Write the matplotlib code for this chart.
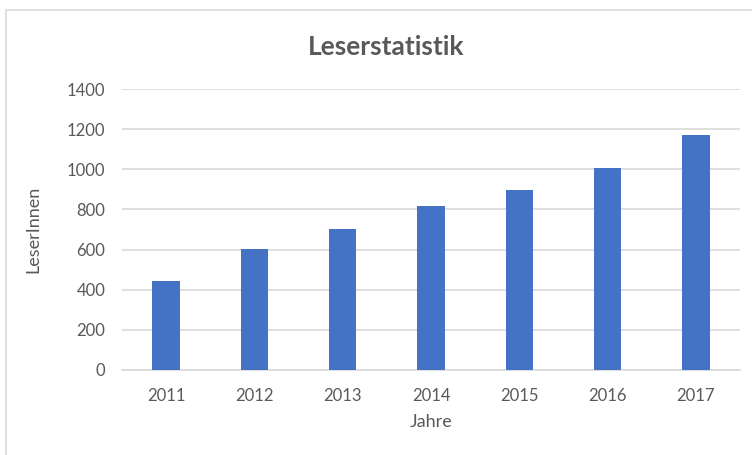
import matplotlib
matplotlib.use("Agg")
import matplotlib.pyplot as plt
from matplotlib.patches import Rectangle

years = ["2011", "2012", "2013", "2014", "2015", "2016", "2017"]
readers = [444, 603, 703, 818, 899, 1004, 1170]
yticks = [0, 200, 400, 600, 800, 1000, 1200, 1400]

plt.rcParams['font.family'] = ['Lato', 'DejaVu Sans']
txt = '#595959'
grid = '#D9D9D9'

fig = plt.figure(figsize=(7.52, 4.55), dpi=100)
fig.patch.set_facecolor('white')
# chart border (cropped at right/bottom)
fig.patches.append(Rectangle((6/752, -0.05), 1.0, (455-10)/455 + 0.05,
                             transform=fig.transFigure, fill=False,
                             edgecolor='#D9D9D9', lw=1.2))

ax = fig.add_axes([122/752, 85/455, (740-122)/752, (370-89)/455])
ax.bar(range(len(years)), readers, width=0.31, color='#4472C4', zorder=3)
ax.set_xlim(-0.5, len(years) - 0.5)
ax.set_ylim(0, 1400)
ax.set_yticks(yticks)
ax.set_xticks(range(len(years)))
ax.set_xticklabels(years)
ax.yaxis.grid(True, color=grid, lw=1.2, zorder=0)
for s in ['top', 'right', 'left']:
    ax.spines[s].set_visible(False)
ax.spines['bottom'].set_color(grid)
ax.spines['bottom'].set_linewidth(1.2)
ax.tick_params(axis='both', length=0, colors=txt, labelsize=12)
ax.tick_params(axis='x', pad=13)
ax.tick_params(axis='y', pad=12)
ax.set_xlabel('Jahre', color=txt, fontsize=13, labelpad=7)
ax.set_ylabel('LeserInnen', color=txt, fontsize=13, labelpad=18)
fig.text(386/752, 1 - 47/455, 'Leserstatistik',
         ha='center', va='center', fontsize=19, fontweight='bold', color=txt)

fig.savefig('out.png', dpi=100)
